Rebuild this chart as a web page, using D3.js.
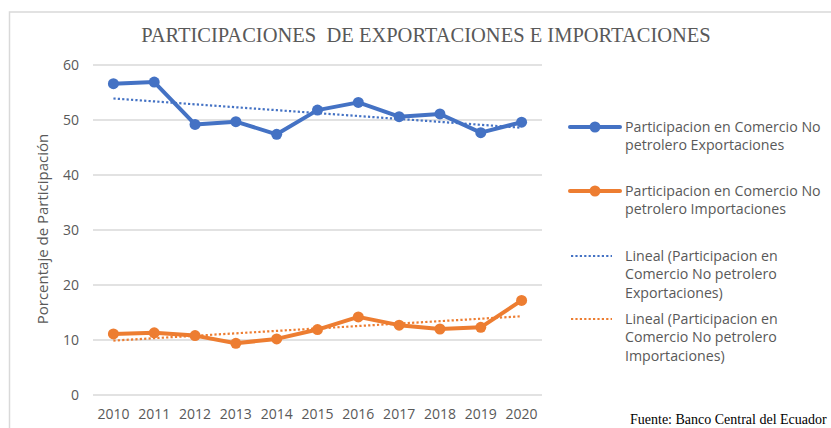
<!DOCTYPE html>
<html>
<head>
<meta charset="utf-8">
<script src="https://cdnjs.cloudflare.com/ajax/libs/d3/7.8.5/d3.min.js"></script>
<style>
  body { margin: 0; background: #fff; }
  .tick text { font-family: "Open Sans", sans-serif; font-size: 14px; fill: #595959; }
  .legend-text { font-family: "Open Sans", sans-serif; font-size: 14.2px; fill: #595959; }
</style>
</head>
<body>
<div class="chart"></div>
<script>
// Participaciones de exportaciones e importaciones (comercio no petrolero)

var years = ["2010", "2011", "2012", "2013", "2014", "2015", "2016", "2017", "2018", "2019", "2020"];
var exportaciones = [56.6, 56.9, 49.2, 49.7, 47.4, 51.8, 53.2, 50.6, 51.1, 47.7, 49.6];
var importaciones = [11.1, 11.3, 10.8, 9.4, 10.2, 11.9, 14.2, 12.7, 12.0, 12.3, 17.2];
var yTicks = [0, 10, 20, 30, 40, 50, 60];

var svgWidth = 831;
var svgHeight = 428;

var margin = {
  top: 65,
  right: 289,
  bottom: 33,
  left: 93
};

var width = svgWidth - margin.left - margin.right;
var height = svgHeight - margin.top - margin.bottom;

var blue = "#4472C4";
var orange = "#ED7D31";

var svg = d3
  .select(".chart")
  .append("svg")
  .attr("width", svgWidth)
  .attr("height", svgHeight);

// outer frame (only top and left edges are visible in the crop)
svg.append("path")
  .attr("d", "M9.5,428 V12 H831")
  .attr("fill", "none")
  .attr("stroke", "#d9d9d9")
  .attr("stroke-width", 1.5);

var chartGroup = svg.append("g")
  .attr("transform", `translate(${margin.left}, ${margin.top})`);

// scales
var xScale = d3.scaleBand()
  .domain(years)
  .range([0, width]);

var yScale = d3.scaleLinear()
  .domain([0, 60])
  .range([height, 0]);

var xPos = d => xScale(d) + xScale.bandwidth() / 2;

// gridlines
chartGroup.append("g")
  .selectAll("line")
  .data(yTicks)
  .enter()
  .append("line")
  .attr("x1", 0)
  .attr("x2", width)
  .attr("y1", d => yScale(d))
  .attr("y2", d => yScale(d))
  .attr("stroke", "#d9d9d9")
  .attr("stroke-width", 1.3);

// axes (no domain lines, no tick marks)
var leftAxis = d3.axisLeft(yScale).tickValues(yTicks).tickSize(0).tickPadding(14);
var bottomAxis = d3.axisBottom(xScale).tickSize(0).tickPadding(14);

chartGroup.append("g")
  .call(leftAxis)
  .call(g => g.select(".domain").remove());

chartGroup.append("g")
  .attr("transform", `translate(0, ${height})`)
  .call(bottomAxis)
  .call(g => g.select(".domain").remove());

// least squares trend (Excel "Lineal")
function trend(values) {
  var n = values.length;
  var mx = (n - 1) / 2;
  var my = d3.mean(values);
  var sxy = d3.sum(values, (v, i) => (i - mx) * (v - my));
  var sxx = d3.sum(values, (v, i) => (i - mx) * (i - mx));
  var b = sxy / sxx;
  return values.map((v, i) => my + b * (i - mx));
}

var series = [
  { name: "exp", values: exportaciones, color: blue },
  { name: "imp", values: importaciones, color: orange }
];

var line = d3.line()
  .x((d, i) => xPos(years[i]))
  .y(d => yScale(d));

// trend lines go under the data lines
series.forEach(function(s) {
  chartGroup.append("path")
    .datum(trend(s.values))
    .attr("d", line)
    .attr("fill", "none")
    .attr("stroke", s.color)
    .attr("stroke-width", 2.2)
    .attr("stroke-dasharray", "2.2,2.2");
});

series.forEach(function(s) {
  chartGroup.append("path")
    .datum(s.values)
    .attr("d", line)
    .attr("fill", "none")
    .attr("stroke", s.color)
    .attr("stroke-width", 4)
    .attr("stroke-linejoin", "round");

  chartGroup.selectAll("circle." + s.name)
    .data(s.values)
    .enter()
    .append("circle")
    .attr("class", s.name)
    .attr("cx", (d, i) => xPos(years[i]))
    .attr("cy", d => yScale(d))
    .attr("r", 5.5)
    .attr("fill", s.color);
});

// y axis label
svg.append("text")
  .attr("transform", "translate(48, 229) rotate(-90)")
  .attr("text-anchor", "middle")
  .attr("font-family", "'Open Sans', sans-serif")
  .attr("font-size", "15px")
  .attr("fill", "#595959")
  .text("Porcentaje de Participación");

// title
svg.append("text")
  .attr("x", 426)
  .attr("y", 42)
  .attr("text-anchor", "middle")
  .attr("font-family", "'Liberation Serif', serif")
  .attr("font-size", "20.5px")
  .attr("fill", "#595959")
  .attr("xml:space", "preserve")
  .style("white-space", "pre")
  .text("PARTICIPACIONES  DE EXPORTACIONES E IMPORTACIONES");

// legend
var legendItems = [
  { color: blue, dotted: false, y: 127, lines: ["Participacion en Comercio No", "petrolero Exportaciones"] },
  { color: orange, dotted: false, y: 191, lines: ["Participacion en Comercio No", "petrolero Importaciones"] },
  { color: blue, dotted: true, y: 256, lines: ["Lineal (Participacion en", "Comercio No petrolero", "Exportaciones)"] },
  { color: orange, dotted: true, y: 319, lines: ["Lineal (Participacion en", "Comercio No petrolero", "Importaciones)"] }
];

var legend = svg.append("g");

legendItems.forEach(function(item) {
  var g = legend.append("g").attr("transform", `translate(570, ${item.y})`);
  if (item.dotted) {
    g.append("line")
      .attr("x1", 1).attr("x2", 42)
      .attr("stroke", item.color)
      .attr("stroke-width", 2.2)
      .attr("stroke-dasharray", "2.2,2.2");
  } else {
    g.append("line")
      .attr("x1", 0).attr("x2", 50)
      .attr("stroke", item.color)
      .attr("stroke-width", 4)
      .attr("stroke-linecap", "round");
    g.append("circle")
      .attr("cx", 25)
      .attr("r", 5.5)
      .attr("fill", item.color);
  }
  g.selectAll("text")
    .data(item.lines)
    .enter()
    .append("text")
    .attr("class", "legend-text")
    .attr("x", 55)
    .attr("y", (d, i) => i * 18.3)
    .attr("dy", "0.35em")
    .text(d => d);
});

// source note
svg.append("text")
  .attr("x", 630)
  .attr("y", 424)
  .attr("font-family", "'Liberation Serif', serif")
  .attr("font-size", "14px")
  .attr("fill", "#000")
  .text("Fuente: Banco Central del Ecuador");
</script>
</body>
</html>
